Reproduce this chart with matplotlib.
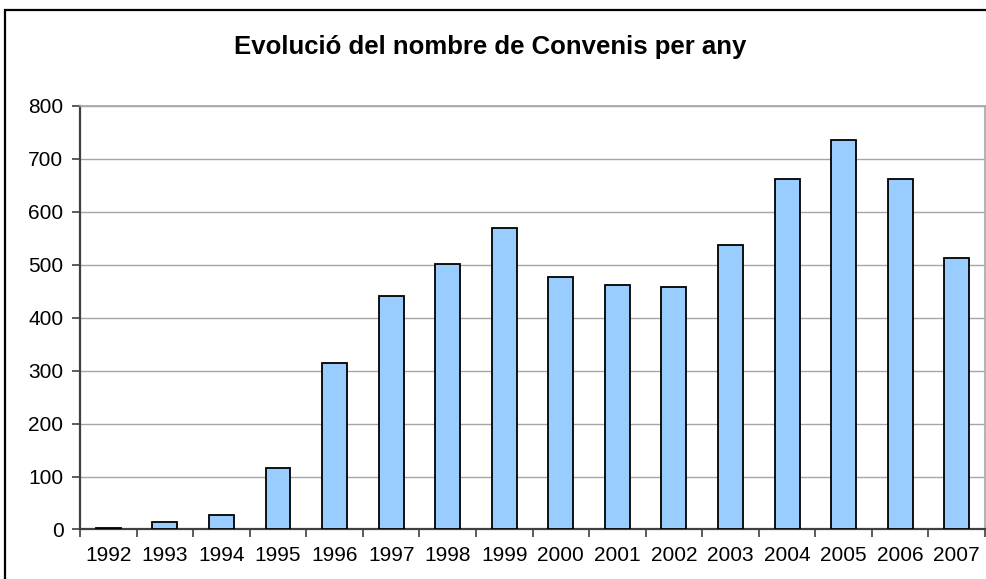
import numpy as np
import matplotlib
matplotlib.use("Agg")
import matplotlib.pyplot as plt
from matplotlib.patches import Rectangle

years = ["1992", "1993", "1994", "1995", "1996", "1997", "1998", "1999",
         "2000", "2001", "2002", "2003", "2004", "2005", "2006", "2007"]
convenis = [3, 14, 27, 117, 315, 440, 502, 570, 477, 461, 457, 538, 662, 736, 662, 513]
y_ticks = [0, 100, 200, 300, 400, 500, 600, 700, 800]

plt.rcParams['font.family'] = ['Liberation Sans', 'DejaVu Sans']

fig = plt.figure(figsize=(9.87, 5.79), dpi=100)
ax = fig.add_axes([0.0811, 0.0855, 0.9169, 0.7319])

# outer chart frame
fig.patches.append(Rectangle((0.005, -0.1), 1.2, 1.083, transform=fig.transFigure,
                             fill=False, edgecolor="black", linewidth=1.6))

x = np.arange(len(years))
ax.bar(x, convenis, width=0.44, color="#99ccff", edgecolor="black", linewidth=1.3, zorder=3)

ax.set_xlim(-0.5, len(years) - 0.5)
ax.set_ylim(0, 800)
ax.set_yticks(y_ticks)
ax.set_yticklabels([str(v) for v in y_ticks], fontsize=15)
ax.yaxis.grid(True, color="#a6a6a6", linewidth=1.0, zorder=0)

ax.set_xticks(x)
ax.set_xticklabels(years, fontsize=15)
ax.set_xticks(np.arange(len(years) + 1) - 0.5, minor=True)
ax.tick_params(axis="x", which="major", length=0, pad=12)
ax.tick_params(axis="x", which="minor", length=6, width=1.2, color="#404040", direction="out")
ax.tick_params(axis="y", length=6, width=1.2, color="#404040", direction="out", pad=6)

for side in ["left", "bottom"]:
    ax.spines[side].set_color("#404040")
    ax.spines[side].set_linewidth(1.6)
ax.spines["top"].set_color("#a6a6a6")
ax.spines["right"].set_color("#a6a6a6")
ax.spines["top"].set_linewidth(1.2)
ax.spines["right"].set_linewidth(1.2)

fig.text(0.497, 0.918, "Evolució del nombre de Convenis per any", ha="center", va="center",
         fontsize=18.5, fontweight="bold")

fig.savefig("out.png", dpi=100)
